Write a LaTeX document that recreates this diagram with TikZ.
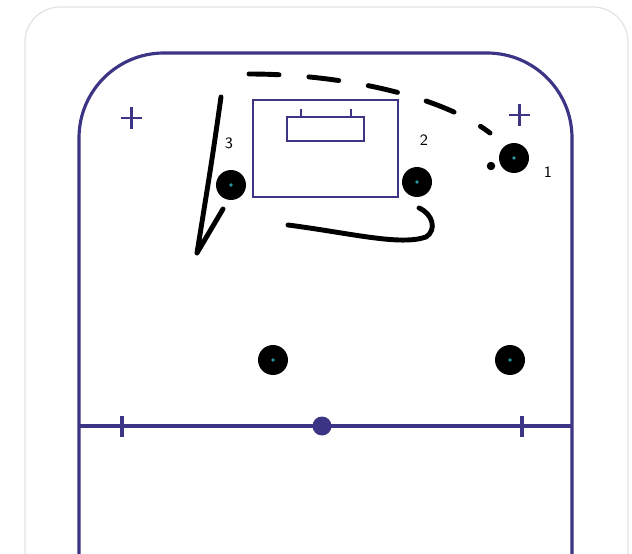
\documentclass[tikz,border=0pt]{standalone}
\usetikzlibrary{positioning,calc}
\definecolor{rink}{RGB}{60,52,132}
\definecolor{dotcyan}{RGB}{40,150,165}
\tikzset{
  rinkline/.style={draw=rink,line width=1.8pt},
  crease/.style={rectangle,draw=rink,line width=1.4pt,minimum width=2.9cm,minimum height=1.94cm,inner sep=0pt},
  goalbox/.style={rectangle,draw=rink,line width=1.4pt,minimum width=1.54cm,minimum height=0.48cm,inner sep=0pt},
  player/.style={circle,fill=black,minimum size=0.6cm,inner sep=0pt},
  centre/.style={circle,fill=dotcyan,minimum size=2.2pt,inner sep=0pt},
  num/.style={font=\small\sffamily},
  skate/.style={line width=2.8pt,line cap=round,line join=round},
  pass/.style={skate,dash pattern=on 0.6cm off 0.6cm}
}

\begin{document}
\begin{tikzpicture}[x=0.02cm,y=-0.02cm]
  \useasboundingbox (0,0) rectangle (632,554);
  \draw[gray!22,line width=0.7pt,rounded corners=0.7cm] (25,7) rectangle (628,620);

  \draw[rinkline,rounded corners=1.7cm] (79,570) -- (79,53) -- (572,53) -- (572,570);
  \coordinate (bl) at (79,426);
  \coordinate (br) at (572,426);
  \draw[rinkline] (bl) -- (br);
  \draw[rinkline] (122,416) -- (122,437);
  \draw[rinkline] (522,416) -- (522,437);
  \node[circle,fill=rink,minimum size=0.38cm,inner sep=0pt] (faceoff) at (322,426) {};
  \draw[rinkline,line width=1.4pt] (121,118) -- (142,118) (131.5,107) -- (131.5,129);
  \draw[rinkline,line width=1.4pt] (509,115) -- (530,115) (519.5,104) -- (519.5,126);

  \node[crease] (crease) at (325.5,148.5) {};
  \node[goalbox] (goal) at (325.5,129) {};
  \draw[rinkline,line width=1.4pt] (goal.north west) ++(15,0) -- ++(0,-7);
  \draw[rinkline,line width=1.4pt] (goal.north east) ++(-14,0) -- ++(0,-7);

  \node[player] (p3) at (231,185) {};
  \node[player] (p2) at (417,182) {};
  \node[player] (p1) at (514,158) {};
  \node[player] (w1) at (273,360) {};
  \node[player] (w2) at (510,360) {};
  \foreach \p in {p1,p2,p3,w1,w2}
    \node[centre] at (\p) {};
  \node[circle,fill=black,minimum size=0.17cm,inner sep=0pt] (puck) at (491,166) {};

  \node[num] (l3) at (229,143) {3};
  \node[num] (l2) at (424,140) {2};
  \node[num] (l1) at (548,172) {1};

  \coordinate (pa) at (249,74);
  \coordinate (pb) at (490,133);
  \draw[pass] (pa) .. controls (340,74) and (440,95) .. (pb);

  \coordinate (sa) at (221,97);
  \coordinate (sb) at (197,253);
  \coordinate (sc) at (223,209);
  \draw[skate] (sa) .. controls (212,160) .. (sb) -- (sc);

  \coordinate (ta) at (288,225);
  \coordinate (tb) at (426,237);
  \coordinate (tc) at (419,208);
  \draw[skate] (ta) .. controls (350,233) and (400,246) .. (tb)
    .. controls (437,230) and (433,214) .. (tc);
\end{tikzpicture}
\end{document}
